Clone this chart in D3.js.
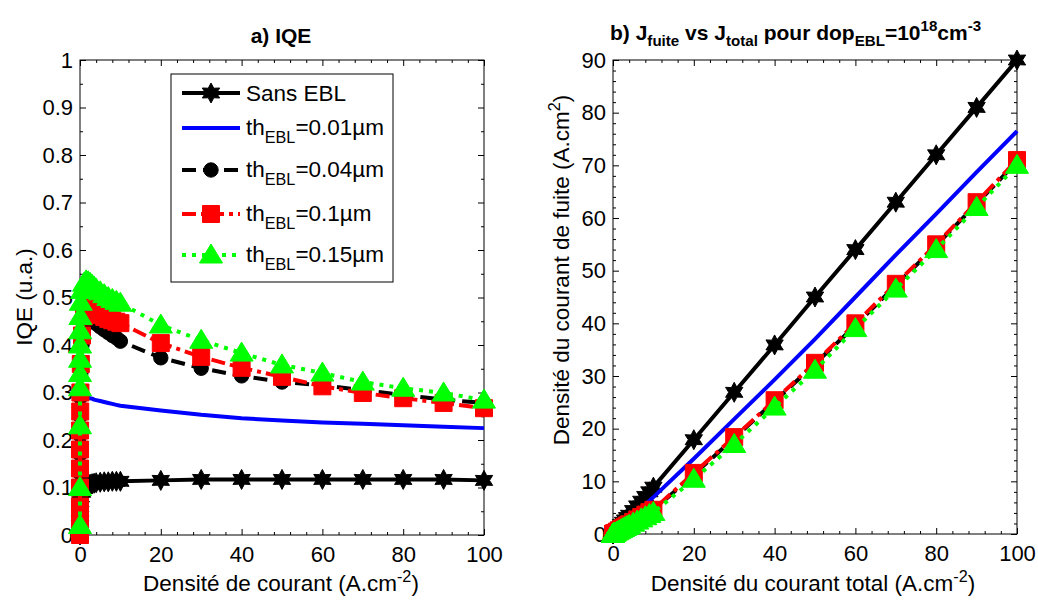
<!DOCTYPE html>
<html><head><meta charset="utf-8">
<script src="https://cdn.jsdelivr.net/npm/d3@7"></script>
<style>body{margin:0;background:#fff} text{font-family:Arial,"Liberation Sans",sans-serif}</style>
</head><body><svg id="c" width="1038" height="600"></svg>
<script>
// ---------------- DATA ----------------
const J = [0, 0.0005, 0.001, 0.002, 0.005, 0.01, 0.02, 0.05, 0.1, 0.2, 0.5, 1, 1.5, 2, 2.5, 3, 3.5, 4, 5, 6, 7, 8, 9, 10, 20, 30, 40, 50, 60, 70, 80, 90, 100];

const iqeSans = [0, 0.005, 0.01, 0.02, 0.03, 0.04, 0.05, 0.06, 0.07, 0.08, 0.09, 0.098, 0.102, 0.105, 0.107, 0.108, 0.109, 0.11, 0.111, 0.112, 0.112, 0.113, 0.113, 0.113, 0.115, 0.117, 0.117, 0.117, 0.117, 0.117, 0.117, 0.117, 0.115];
const iqe001 = [0, 0.02, 0.04, 0.07, 0.10, 0.13, 0.16, 0.20, 0.23, 0.26, 0.28, 0.289, 0.29, 0.289, 0.288, 0.287, 0.285, 0.284, 0.282, 0.28, 0.278, 0.276, 0.274, 0.272, 0.262, 0.253, 0.246, 0.241, 0.237, 0.234, 0.231, 0.228, 0.225];
const iqe004 = [0, 0.03, 0.06, 0.09, 0.13, 0.17, 0.21, 0.25, 0.29, 0.34, 0.40, 0.44, 0.455, 0.46, 0.457, 0.453, 0.449, 0.445, 0.438, 0.432, 0.426, 0.42, 0.415, 0.408, 0.373, 0.351, 0.335, 0.322, 0.315, 0.305, 0.295, 0.285, 0.278];
const iqe01 = [0, 0.03, 0.06, 0.10, 0.14, 0.18, 0.22, 0.26, 0.30, 0.36, 0.42, 0.46, 0.475, 0.48, 0.478, 0.475, 0.471, 0.468, 0.463, 0.459, 0.455, 0.452, 0.449, 0.446, 0.404, 0.375, 0.352, 0.333, 0.313, 0.299, 0.288, 0.278, 0.267];
const iqe015 = [0.02, 0.10, 0.23, 0.31, 0.34, 0.37, 0.40, 0.43, 0.46, 0.49, 0.515, 0.53, 0.535, 0.533, 0.53, 0.526, 0.522, 0.518, 0.512, 0.506, 0.50, 0.496, 0.492, 0.488, 0.442, 0.41, 0.383, 0.358, 0.341, 0.322, 0.309, 0.299, 0.284];

const leakSans = [0, 0, 0, 0, 0, 0.01, 0.02, 0.04, 0.09, 0.18, 0.45, 0.89, 1.34, 1.78, 2.23, 2.67, 3.12, 3.56, 4.45, 5.34, 6.23, 7.12, 8.01, 8.9, 17.9, 26.9, 35.9, 45.0, 54.0, 63.0, 72.0, 81.0, 90.0];
const leak001 = [0, 0, 0, 0, 0, 0.01, 0.01, 0.04, 0.07, 0.14, 0.35, 0.7, 1.05, 1.4, 1.75, 2.1, 2.45, 2.8, 3.5, 4.2, 4.9, 5.6, 6.3, 7.0, 14.3, 21.8, 29.3, 37.0, 45.0, 53.0, 60.8, 68.7, 76.5];
const leak004 = [0, 0, 0, 0, 0, 0, 0.01, 0.02, 0.05, 0.09, 0.23, 0.45, 0.68, 0.9, 1.13, 1.35, 1.58, 1.8, 2.25, 2.7, 3.15, 3.6, 4.05, 4.5, 11.3, 18.2, 25.2, 32.3, 39.6, 47.2, 54.8, 62.7, 70.7];
const leak01 = [0, 0, 0, 0, 0, 0, 0.01, 0.02, 0.05, 0.09, 0.23, 0.46, 0.69, 0.92, 1.15, 1.38, 1.61, 1.84, 2.3, 2.76, 3.22, 3.68, 4.14, 4.6, 11.6, 18.4, 25.4, 32.5, 40.0, 47.5, 55.0, 63.0, 71.0];
const leak015 = [0, 0, 0, 0, 0, 0, 0.01, 0.02, 0.04, 0.08, 0.2, 0.41, 0.62, 0.82, 1.03, 1.23, 1.44, 1.64, 2.05, 2.46, 2.87, 3.28, 3.69, 4.1, 10.4, 17.0, 24.1, 31.1, 39.0, 46.5, 54.0, 62.0, 70.0];

const xTicks = [0, 20, 40, 60, 80, 100];
const xMinorTicks = [4, 8, 12, 16, 24, 28, 32, 36, 44, 48, 52, 56, 64, 68, 72, 76, 84, 88, 92, 96];
const iqeTicks = [0, 0.1, 0.2, 0.3, 0.4, 0.5, 0.6, 0.7, 0.8, 0.9, 1];
const iqeTickLabels = ["0", "0.1", "0.2", "0.3", "0.4", "0.5", "0.6", "0.7", "0.8", "0.9", "1"];
const iqeMinorTicks = [0.05, 0.15, 0.25, 0.35, 0.45, 0.55, 0.65, 0.75, 0.85, 0.95];
const leakTicks = [0, 10, 20, 30, 40, 50, 60, 70, 80, 90];
const leakMinorTicks = [2,4,6,8,12,14,16,18,22,24,26,28,32,34,36,38,42,44,46,48,52,54,56,58,62,64,66,68,72,74,76,78,82,84,86,88];
const legendValues = ["0.01", "0.04", "0.1", "0.15"];

// ---------------- SETUP ----------------
const svg = d3.select("#c");
const FONT = 'Arial,"Liberation Sans",sans-serif';
const xL = d3.scaleLinear([0, 100], [80, 484]);
const yL = d3.scaleLinear([0, 1], [535, 60]);
const xR = d3.scaleLinear([0, 100], [613, 1017]);
const yR = d3.scaleLinear([0, 90], [534, 60]);

const styles = [
  {color: "#000", dash: null, marker: "hexagram"},
  {color: "#0000ff", dash: null, marker: null},
  {color: "#000", dash: "14,7", marker: "circle"},
  {color: "#ff0000", dash: "14,5,4,5", marker: "square"},
  {color: "#00ff00", dash: "4,6", marker: "triangle"}
];

function hexPath(r) {
  const ri = r * 0.55; let p = "";
  for (let i = 0; i < 12; i++) {
    const a = -Math.PI / 2 + i * Math.PI / 6;
    const rr = i % 2 === 0 ? r : ri;
    p += (i ? "L" : "M") + (rr * Math.cos(a)).toFixed(2) + "," + (rr * Math.sin(a)).toFixed(2);
  }
  return p + "Z";
}
function markerPath(type) {
  if (type === "hexagram") return hexPath(10);
  if (type === "circle") return d3.symbol(d3.symbolCircle, Math.PI * 7.2 * 7.2)();
  if (type === "square") return "M-8.5,-8.5H8.5V8.5H-8.5Z";
  if (type === "triangle") return "M0,-11L11.5,8L-11.5,8Z";
  return null;
}

function drawAxes(g, x, y, yTicks, yMinor, yFmt) {
  const [x0, x1] = x.range(); const [y0, y1] = y.range();
  g.append("rect").attr("x", x0).attr("y", y1).attr("width", x1 - x0).attr("height", y0 - y1)
    .attr("fill", "none").attr("stroke", "#000").attr("stroke-width", 1);
  const style = sel => { sel.attr("font-size", 22).attr("font-family", FONT); sel.select(".domain").remove(); sel.selectAll("line").attr("stroke", "#000"); sel.selectAll("text").attr("fill", "#000"); };
  g.append("g").attr("transform", `translate(0,${y0})`).call(d3.axisBottom(x).tickValues(xTicks).tickSize(-6).tickPadding(11).tickFormat(d3.format("d"))).call(style);
  g.append("g").attr("transform", `translate(0,${y0})`).call(d3.axisBottom(x).tickValues(xMinorTicks).tickSize(-3).tickFormat("")).call(style);
  g.append("g").attr("transform", `translate(0,${y1})`).call(d3.axisTop(x).tickValues(xTicks).tickSize(-6).tickFormat("")).call(style);
  g.append("g").attr("transform", `translate(0,${y1})`).call(d3.axisTop(x).tickValues(xMinorTicks).tickSize(-3).tickFormat("")).call(style);
  g.append("g").attr("transform", `translate(${x0},0)`).call(d3.axisLeft(y).tickValues(yTicks).tickSize(-6).tickPadding(7).tickFormat(yFmt)).call(style);
  g.append("g").attr("transform", `translate(${x0},0)`).call(d3.axisLeft(y).tickValues(yMinor).tickSize(-3).tickFormat("")).call(style);
  g.append("g").attr("transform", `translate(${x1},0)`).call(d3.axisRight(y).tickValues(yTicks).tickSize(-6).tickFormat("")).call(style);
  g.append("g").attr("transform", `translate(${x1},0)`).call(d3.axisRight(y).tickValues(yMinor).tickSize(-3).tickFormat("")).call(style);
}

function drawSeries(g, x, y, xs, ys, st) {
  const line = d3.line().x((d, i) => x(xs[i])).y(d => y(d));
  g.append("path").datum(ys).attr("d", line).attr("fill", "none").attr("stroke", st.color)
    .attr("stroke-width", 4).attr("stroke-dasharray", st.dash).attr("stroke-linejoin", "round");
  if (st.marker) {
    g.append("g").selectAll("path").data(ys).join("path")
      .attr("d", markerPath(st.marker))
      .attr("transform", (d, i) => `translate(${x(xs[i])},${y(d)})`)
      .attr("fill", st.color).attr("stroke", st.color).attr("stroke-width", 1);
  }
}

// rich text: parts = [[text, kind]] kind: n, sub, sup
function rich(parent, x, y, parts, size, opts = {}) {
  const t = parent.append("text").attr("x", x).attr("y", y).attr("font-size", size)
    .attr("font-family", FONT).attr("fill", "#000");
  if (opts.bold) t.attr("font-weight", "bold");
  if (opts.anchor) t.attr("text-anchor", opts.anchor);
  if (opts.rotate) t.attr("transform", `rotate(-90,${x},${y})`);
  let cur = 0;
  const small = size * 0.72;
  const subShift = opts.subShift || size * 0.33, supShift = opts.supShift || -size * 0.42;
  parts.forEach(([txt, kind]) => {
    const target = kind === "sub" ? subShift : kind === "sup" ? supShift : 0;
    const ts = t.append("tspan").text(txt).attr("dy", target - cur);
    if (kind !== "n") ts.attr("font-size", small);
    cur = target;
  });
  return t;
}

// ---------------- LEFT PLOT ----------------
const gL = svg.append("g");
drawAxes(gL, xL, yL, iqeTicks, iqeMinorTicks, (d, i) => iqeTickLabels[i]);
const iqeSeries = [iqeSans, iqe001, iqe004, iqe01, iqe015];
iqeSeries.forEach((s, k) => drawSeries(gL, xL, yL, J, s, styles[k]));

rich(svg, 281, 43, [["a) IQE", "n"]], 21, {bold: true, anchor: "middle"});
rich(svg, 281, 591, [["Densité de courant (A.cm", "n"], ["-2", "sup"], [")", "n"]], 22.5, {anchor: "middle"});
rich(svg, 32, 297, [["IQE (u.a.)", "n"]], 22.5, {anchor: "middle", rotate: true});

// legend
const lg = svg.append("g");
lg.append("rect").attr("x", 171).attr("y", 74).attr("width", 222).attr("height", 208)
  .attr("fill", "#fff").attr("stroke", "#000").attr("stroke-width", 1);
const rowY = [93, 128, 170, 214, 255];
styles.forEach((st, k) => {
  const cy = rowY[k];
  lg.append("line").attr("x1", 182).attr("x2", 240).attr("y1", cy).attr("y2", cy)
    .attr("stroke", st.color).attr("stroke-width", 4).attr("stroke-dasharray", st.dash);
  if (st.marker) lg.append("path").attr("d", markerPath(st.marker)).attr("transform", `translate(211,${cy})`)
    .attr("fill", st.color).attr("stroke", st.color);
  if (k === 0) rich(lg, 246, cy + 8, [["Sans EBL", "n"]], 22.5);
  else rich(lg, 246, cy + 7, [["th", "n"], ["EBL", "sub"], ["=" + legendValues[k - 1] + "\u00b5m", "n"]], 22.5, {subShift: 8});
});

// ---------------- RIGHT PLOT ----------------
const gR = svg.append("g");
drawAxes(gR, xR, yR, leakTicks, leakMinorTicks, d3.format("d"));
const leakSeries = [leakSans, leak001, leak004, leak01, leak015];
leakSeries.forEach((s, k) => drawSeries(gR, xR, yR, J, s, styles[k]));

rich(svg, 610, 40, [["b) J", "n"], ["fuite", "sub"], [" vs J", "n"], ["total", "sub"], [" pour dop", "n"], ["EBL", "sub"], ["=10", "n"], ["18", "sup"], ["cm", "n"], ["-3", "sup"]], 21, {bold: true, subShift: 6, supShift: -9});
rich(svg, 813, 591, [["Densité du courant total (A.cm", "n"], ["-2", "sup"], [")", "n"]], 22.5, {anchor: "middle"});
rich(svg, 569, 270, [["Densité du courant de fuite (A.cm", "n"], ["2", "sup"], [")", "n"]], 22.5, {anchor: "middle", rotate: true});
</script></body></html>
